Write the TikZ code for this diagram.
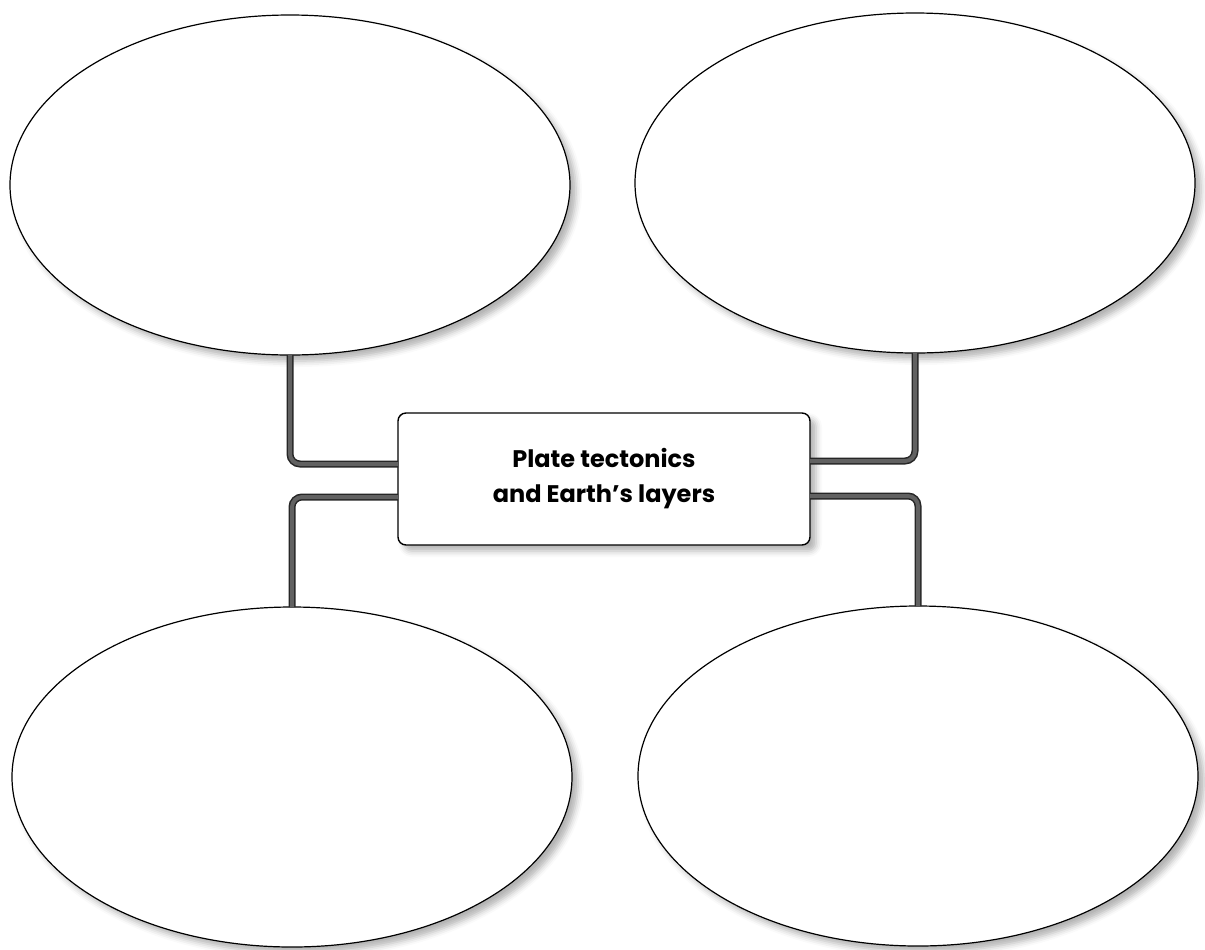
\documentclass[tikz,border=0pt]{standalone}
\usepackage{fontspec}
\newfontfamily\topicfont{Poppins}
\usetikzlibrary{shapes.geometric}
\usetikzlibrary{shadows.blur}
\usetikzlibrary{calc}

\tikzset{
  bubble/.style={ellipse, draw, line width=0.6pt, fill=white,
    minimum width=280pt, minimum height=170pt, inner sep=0pt, outer sep=0pt,
    blur shadow={shadow xshift=3pt, shadow yshift=-3pt,
      shadow blur radius=3pt, shadow opacity=30}},
  topicbox/.style={rectangle, draw, line width=0.7pt, fill=white,
    rounded corners=4pt, minimum width=206pt, minimum height=66pt,
    inner sep=0pt, outer sep=0pt, align=center,
    font=\topicfont\bfseries\fontsize{12}{17.5}\selectfont,
    blur shadow={shadow xshift=3pt, shadow yshift=-3pt,
      shadow blur radius=3pt, shadow opacity=30}},
  link/.style={draw=black!85, double=black!62, double distance=2pt,
    line width=0.75pt, rounded corners=5pt}
}

\begin{document}
\begin{tikzpicture}[x=0.5pt, y=-0.5pt]

        \useasboundingbox (0,0) rectangle (1205,949);

        % Bubbles
        \node[bubble] (tl) at (290,185) {};
        \node[bubble] (tr) at (915,183) {};
        \node[bubble] (bl) at (292,777) {};
        \node[bubble] (br) at (918,776) {};

        % Topic
        \node[topicbox] (topic) at (604,479) {Plate tectonics\\and Earth’s layers};

        % Links
        \draw[link] (tl.south) |- ($(topic.west)+(0,-15)$);
        \draw[link] (bl.north) |- ($(topic.west)+(0,18)$);
        \draw[link] (tr.south) |- ($(topic.east)+(0,-18)$);
        \draw[link] (br.north) |- ($(topic.east)+(0,17)$);

\end{tikzpicture}
\end{document}
